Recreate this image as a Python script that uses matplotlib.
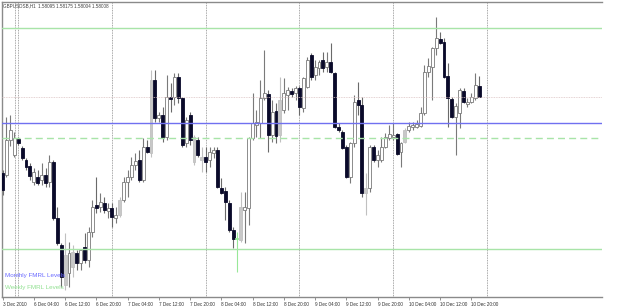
import numpy as np
import matplotlib.pyplot as plt

plt.rcParams['font.family'] = ['Liberation Sans', 'DejaVu Sans']

# GBPUSD H1 bars, 3 Dec 2010 20:00 .. 10 Dec 2010 22:00
opens = [1.57396, 1.57380, 1.57660, 1.57540, 1.57668, 1.57596, 1.57500, 1.57452, 1.57324, 1.57364,
         1.57340, 1.57380, 1.57324, 1.57484, 1.57036, 1.56820, 1.56500, 1.56596, 1.56644, 1.56756,
         1.56676, 1.56804, 1.56700, 1.56924, 1.57140, 1.57124, 1.57156, 1.57092, 1.57116, 1.57036,
         1.57060, 1.57180, 1.57324, 1.57364, 1.57460, 1.57500, 1.57340, 1.57604, 1.57556, 1.58140,
         1.57836, 1.57860, 1.57684, 1.58004, 1.58004, 1.58164, 1.57996, 1.57636, 1.57860, 1.57684,
         1.57660, 1.57500, 1.57524, 1.57500, 1.57556, 1.57580, 1.57276, 1.57252, 1.57156, 1.56940,
         1.56868, 1.56860, 1.57100, 1.57116, 1.57676, 1.57780, 1.57796, 1.57996, 1.58028, 1.57700,
         1.57892, 1.57700, 1.57900, 1.58020, 1.58052, 1.58036, 1.58076, 1.57916, 1.58084, 1.58340,
         1.58180, 1.58236, 1.58300, 1.58244, 1.58284, 1.58196, 1.57764, 1.57724, 1.57604, 1.57364,
         1.57636, 1.57980, 1.57940, 1.57236, 1.57276, 1.57604, 1.57500, 1.57500, 1.57604, 1.57676,
         1.57684, 1.57708, 1.57564, 1.57644, 1.57740, 1.57764, 1.57764, 1.57772, 1.57876, 1.58204,
         1.58244, 1.58396, 1.58468, 1.58444, 1.58172, 1.57988, 1.57844, 1.57876, 1.58052, 1.57948,
         1.57964, 1.57996, 1.58095]
highs = [1.57420, 1.57844, 1.57860, 1.57724, 1.57684, 1.57612, 1.57516, 1.57476, 1.57436, 1.57420,
         1.57476, 1.57436, 1.57540, 1.57500, 1.57124, 1.56836, 1.56916, 1.56844, 1.56820, 1.56780,
         1.56764, 1.56916, 1.56964, 1.57180, 1.57364, 1.57236, 1.57204, 1.57156, 1.57156, 1.57124,
         1.57204, 1.57364, 1.57420, 1.57524, 1.57556, 1.57580, 1.57676, 1.57660, 1.58220, 1.58220,
         1.57884, 1.57924, 1.58180, 1.58116, 1.58196, 1.58196, 1.58004, 1.57844, 1.57884, 1.57700,
         1.57684, 1.57604, 1.57604, 1.57604, 1.57604, 1.57604, 1.57356, 1.57284, 1.57180, 1.56964,
         1.56924, 1.57244, 1.57244, 1.57684, 1.58036, 1.57900, 1.58140, 1.58380, 1.58060, 1.57980,
         1.57956, 1.58164, 1.58156, 1.58084, 1.58076, 1.58092, 1.58092, 1.58164, 1.58324, 1.58356,
         1.58300, 1.58300, 1.58364, 1.58364, 1.58436, 1.58204, 1.57796, 1.57740, 1.57620, 1.57644,
         1.58020, 1.58124, 1.58004, 1.57396, 1.57620, 1.57620, 1.57580, 1.57684, 1.57716, 1.57780,
         1.57796, 1.57716, 1.57644, 1.57756, 1.57804, 1.57804, 1.57820, 1.57924, 1.58260, 1.58316,
         1.58404, 1.58644, 1.58524, 1.58476, 1.58276, 1.58004, 1.57956, 1.58076, 1.58076, 1.57996,
         1.58036, 1.58196, 1.58175]
lows = [1.57220, 1.57364, 1.57612, 1.57524, 1.57620, 1.57500, 1.57420, 1.57340, 1.57300, 1.57300,
        1.57300, 1.57284, 1.57284, 1.57020, 1.56820, 1.56484, 1.56460, 1.56484, 1.56564, 1.56620,
        1.56620, 1.56676, 1.56644, 1.56884, 1.57076, 1.57084, 1.57076, 1.57036, 1.56964, 1.56996,
        1.57044, 1.57164, 1.57204, 1.57340, 1.57420, 1.57324, 1.57324, 1.57556, 1.57524, 1.57804,
        1.57804, 1.57644, 1.57660, 1.57884, 1.57940, 1.57956, 1.57604, 1.57604, 1.57620, 1.57460,
        1.57524, 1.57404, 1.57404, 1.57444, 1.57516, 1.57276, 1.57228, 1.57020, 1.56924, 1.56796,
        1.56604, 1.56844, 1.56836, 1.56980, 1.57660, 1.57684, 1.57676, 1.57980, 1.57564, 1.57644,
        1.57636, 1.57644, 1.57876, 1.57900, 1.58004, 1.57980, 1.57860, 1.57884, 1.58076, 1.58140,
        1.58140, 1.58180, 1.58204, 1.58204, 1.58196, 1.57756, 1.57724, 1.57588, 1.57356, 1.57316,
        1.57604, 1.57860, 1.57204, 1.57060, 1.57244, 1.57484, 1.57444, 1.57484, 1.57596, 1.57660,
        1.57660, 1.57540, 1.57444, 1.57636, 1.57724, 1.57740, 1.57756, 1.57764, 1.57860, 1.58164,
        1.57980, 1.58340, 1.58428, 1.58156, 1.57764, 1.57836, 1.57540, 1.57756, 1.57956, 1.57924,
        1.57956, 1.57980, 1.58004]
closes = [1.57260, 1.57660, 1.57740, 1.57676, 1.57636, 1.57516, 1.57444, 1.57372, 1.57404, 1.57316,
          1.57380, 1.57316, 1.57484, 1.57036, 1.56836, 1.56564, 1.56740, 1.56756, 1.56764, 1.56676,
          1.56780, 1.56700, 1.56924, 1.57124, 1.57116, 1.57164, 1.57100, 1.57116, 1.57044, 1.57060,
          1.57180, 1.57324, 1.57364, 1.57460, 1.57492, 1.57340, 1.57604, 1.57564, 1.58140, 1.57836,
          1.57860, 1.57676, 1.58004, 1.57988, 1.58164, 1.57996, 1.57620, 1.57820, 1.57660, 1.57484,
          1.57540, 1.57524, 1.57484, 1.57564, 1.57580, 1.57284, 1.57236, 1.57164, 1.56940, 1.56868,
          1.56876, 1.57124, 1.57124, 1.57676, 1.57796, 1.57804, 1.57996, 1.58036, 1.57700, 1.57884,
          1.57692, 1.57980, 1.58036, 1.58060, 1.58028, 1.58076, 1.57924, 1.58156, 1.58300, 1.58164,
          1.58244, 1.58284, 1.58236, 1.58284, 1.58204, 1.57764, 1.57740, 1.57596, 1.57364, 1.57636,
          1.57964, 1.57940, 1.57236, 1.57276, 1.57604, 1.57500, 1.57540, 1.57604, 1.57684, 1.57708,
          1.57700, 1.57548, 1.57636, 1.57740, 1.57772, 1.57780, 1.57788, 1.57876, 1.58204, 1.58252,
          1.58396, 1.58476, 1.58436, 1.58164, 1.57996, 1.57844, 1.57932, 1.58060, 1.57964, 1.57964,
          1.58004, 1.58100, 1.58008]
gray_bars = [16, 18, 30, 38, 49, 51, 61, 71, 93, 103]
green_bars = [60]

tick_pos = [0, 8, 16, 24, 32, 40, 48, 56, 64, 72, 80, 88, 96, 104, 112, 120]
tick_labels = ['3 Dec 2010', '6 Dec 04:00', '6 Dec 12:00', '6 Dec 20:00', '7 Dec 04:00',
               '7 Dec 12:00', '7 Dec 20:00', '8 Dec 04:00', '8 Dec 12:00', '8 Dec 20:00',
               '9 Dec 04:00', '9 Dec 12:00', '9 Dec 20:00', '10 Dec 04:00', '10 Dec 12:00',
               '10 Dec 20:00']
separators = [3.2, 4, 28, 52, 76, 100, 124]

weekly_solid = [1.58558, 1.56788]
weekly_dashed = 1.57676
monthly_level = 1.57794
bid_price = 1.58008

o = np.array(opens)
h = np.array(highs)
l = np.array(lows)
c = np.array(closes)
x = np.arange(len(o))

face, edge, wick = [], [], []
for i in range(len(o)):
    if i in green_bars:
        face.append('#98e898'); edge.append('#98e898'); wick.append('#98e898')
    elif i in gray_bars:
        face.append('#c8c8c8'); edge.append('#c0c0c0'); wick.append('#c0c0c0')
    elif c[i] >= o[i]:
        face.append('white'); edge.append('#7a7a7a'); wick.append('#7a7a7a')
    else:
        face.append('#0a0a2a'); edge.append('#0a0a2a'); wick.append('#6a6a6a')

fig = plt.figure(figsize=(6.25, 3.07), dpi=100)
fig.patch.set_facecolor('white')
ax = fig.add_axes([2/625, 10/307, 600/625, 295/307])

ax.vlines(x, l, h, colors=wick, linewidth=0.8, zorder=2)
body = np.maximum(np.abs(c - o), 0.00003)
ax.bar(x, body, bottom=np.minimum(o, c), width=0.75, color=face,
       edgecolor=edge, linewidth=0.6, zorder=3)

for s in separators:
    ax.axvline(s, color='#8a8a8a', linewidth=0.6, linestyle=(0, (1, 1)), zorder=1)

for lv in weekly_solid:
    ax.axhline(lv, color='#a8e4a8', linewidth=1, zorder=4)
ax.axhline(weekly_dashed, color='#a8e4a8', linewidth=1, linestyle=(0, (5, 3)), zorder=4)
ax.axhline(monthly_level, color='#7070f0', linewidth=1, zorder=4)
ax.axhline(bid_price, color='#dcc4c4', linewidth=0.6, linestyle=(0, (1, 1)), zorder=4)

ax.set_xlim(-0.15, 153.45)
ax.set_ylim(1.56404, 1.58764)
ax.set_yticks([])
ax.set_xticks(tick_pos)
ax.set_xticklabels(tick_labels, fontsize=3.3, ha='left', color='#303030')
ax.tick_params(axis='x', length=2.5, width=0.6, color='#808080', pad=0.8)
for side in ['left', 'top', 'bottom']:
    ax.spines[side].set_color('#8a8a8a')
    ax.spines[side].set_linewidth(1)
ax.spines['right'].set_visible(False)

fig.text(3/625, 1 - 6/307, 'GBPUSDSB,H1  1.58095 1.58175 1.58004 1.58008',
         fontsize=3.3, color='#404040', ha='left', va='center')
fig.text(5/625, 1 - 275/307, 'Monthly FMRL Levels', fontsize=4.5,
         color='#6a6aff', ha='left', va='center')
fig.text(5/625, 1 - 287/307, 'Weekly FMRL Levels', fontsize=4.5,
         color='#90e090', ha='left', va='center')

fig.savefig('out.png', dpi=100)
